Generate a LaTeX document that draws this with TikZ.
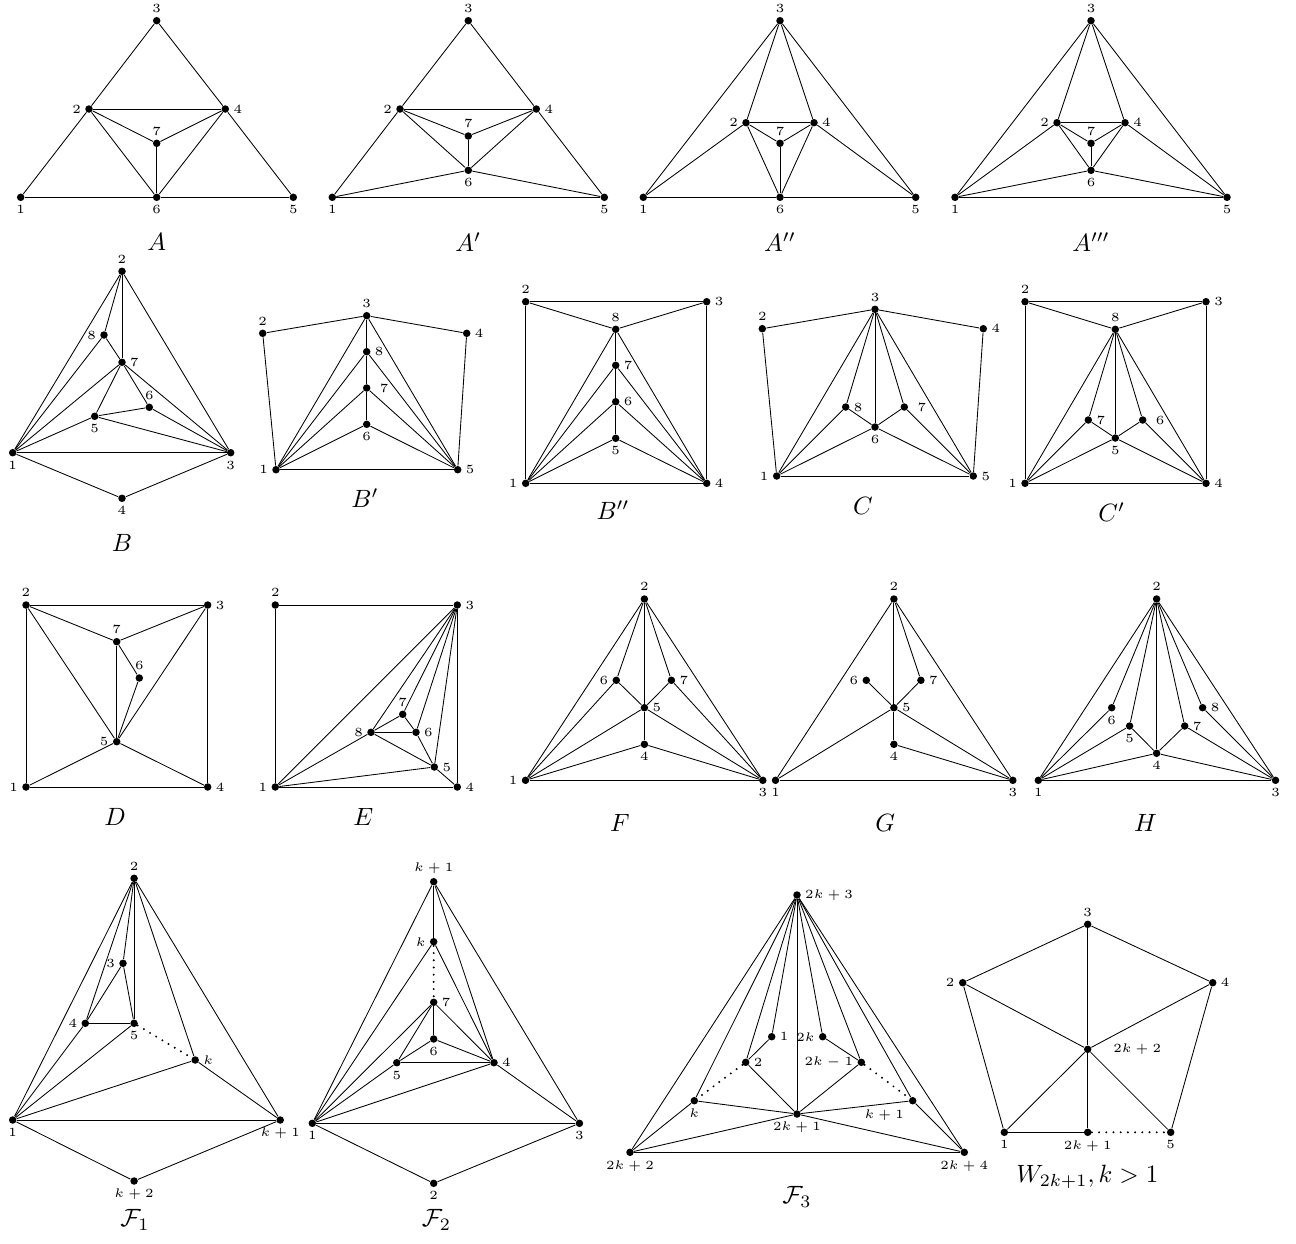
\documentclass[tikz,border=0pt]{standalone}
\begin{document}
\begin{tikzpicture}[x=1pt,y=-1pt,line width=0.85pt,
  v/.style={circle,fill=black,inner sep=0pt,minimum size=7.5pt},
  every label/.style={scale=2.5,font=\tiny,inner sep=1.2pt},
  captext/.style={scale=2.5,font=\normalsize,inner sep=0pt},
  dotline/.style={line width=2.2pt,line cap=round,dash pattern=on 0pt off 7.2pt}]
\useasboundingbox (0,0) rectangle (1296,1243);

% ---------- A ----------
\node[v,label=below:$1$] (a1) at (20.7,197.3) {};
\node[v,label=left:$2$] (a2) at (89,109) {};
\node[v,label=above:$3$] (a3) at (156.7,20.7) {};
\node[v,label=right:$4$] (a4) at (225.3,109) {};
\node[v,label=below:$5$] (a5) at (293.3,197.3) {};
\node[v,label=below:$6$] (a6) at (156.7,197.3) {};
\node[v,label=above:$7$] (a7) at (156.7,143.3) {};
\foreach \p/\q in {a1/a2,a2/a3,a3/a4,a4/a5,a5/a6,a6/a1,a2/a4,a2/a7,a7/a4,a7/a6,a2/a6,a4/a6}
  \draw (\p)--(\q);
\node[captext] (capA) at (156.7,241.7) {$A$};

% ---------- A' ----------
\node[v,label=below:$1$] (b1) at (332.3,197.3) {};
\node[v,label=left:$2$] (b2) at (400,109) {};
\node[v,label=above:$3$] (b3) at (468.3,20.7) {};
\node[v,label=right:$4$] (b4) at (536.3,109) {};
\node[v,label=below:$5$] (b5) at (604.3,197.3) {};
\node[v,label=below:$6$] (b6) at (468.3,170.3) {};
\node[v,label=above:$7$] (b7) at (468.3,136) {};
\foreach \p/\q in {b1/b2,b2/b3,b3/b4,b4/b5,b1/b5,b2/b4,b2/b7,b4/b7,b7/b6,b2/b6,b4/b6,b1/b6,b5/b6}
  \draw (\p)--(\q);
\node[captext] (capAp) at (468.3,241.7) {$A'$};

% ---------- A'' ----------
\node[v,label=below:$1$] (c1) at (643.3,197.3) {};
\node[v,label=left:$2$] (c2) at (746,122.7) {};
\node[v,label=above:$3$] (c3) at (780,20.7) {};
\node[v,label=right:$4$] (c4) at (814,122.7) {};
\node[v,label=below:$5$] (c5) at (915.7,197.3) {};
\node[v,label=below:$6$] (c6) at (780,197.3) {};
\node[v,label=above:$7$] (c7) at (780,143.3) {};
\foreach \p/\q in {c1/c3,c3/c5,c1/c6,c6/c5,c3/c2,c3/c4,c1/c2,c4/c5,c2/c4,c2/c7,c4/c7,c7/c6,c2/c6,c4/c6}
  \draw (\p)--(\q);
\node[captext] (capApp) at (780,241.7) {$A''$};

% ---------- A''' ----------
\node[v,label=below:$1$] (d1) at (955,197.3) {};
\node[v,label=left:$2$] (d2) at (1057,122.7) {};
\node[v,label=above:$3$] (d3) at (1091,20.7) {};
\node[v,label=right:$4$] (d4) at (1125,122.7) {};
\node[v,label=below:$5$] (d5) at (1227,197.3) {};
\node[v,label=below:$6$] (d6) at (1091,170.3) {};
\node[v,label=above:$7$] (d7) at (1091,143.3) {};
\foreach \p/\q in {d1/d3,d3/d5,d1/d5,d3/d2,d3/d4,d1/d2,d4/d5,d2/d4,d2/d7,d4/d7,d7/d6,d2/d6,d4/d6,d1/d6,d5/d6}
  \draw (\p)--(\q);
\node[captext] (capAppp) at (1091,241.7) {$A'''$};

% ---------- B ----------
\node[v,label=below:$1$] (e1) at (12.7,452.7) {};
\node[v,label=above:$2$] (e2) at (122,271.3) {};
\node[v,label=below:$3$] (e3) at (230.7,452.7) {};
\node[v,label=below:$4$] (e4) at (122,498.3) {};
\node[v,label=below:$5$] (e5) at (94.7,416.3) {};
\node[v,label=above:$6$] (e6) at (149.3,407.3) {};
\node[v,label=right:$7$] (e7) at (122,362.3) {};
\node[v,label=left:$8$] (e8) at (104,335) {};
\foreach \p/\q in {e2/e1,e2/e3,e2/e8,e2/e7,e8/e1,e8/e7,e7/e1,e7/e3,e7/e5,e7/e6,e5/e6,e5/e1,e5/e3,e6/e3,e1/e3,e1/e4,e4/e3}
  \draw (\p)--(\q);
\node[captext] (capB) at (122,543) {$B$};

% ---------- B' ----------
\node[v,label=left:$1$] (f1) at (276,469.7) {};
\node[v,label=above:$2$] (f2) at (262.7,333.3) {};
\node[v,label=above:$3$] (f3) at (366.7,315.7) {};
\node[v,label=right:$4$] (f4) at (466.7,333.3) {};
\node[v,label=right:$5$] (f5) at (457.7,469.7) {};
\node[v,label=below:$6$] (f6) at (366.7,424.3) {};
\node[v,label={[label distance=2pt]right:$7$}] (f7) at (366.7,388) {};
\node[v,label=right:$8$] (f8) at (366.7,351.7) {};
\foreach \p/\q in {f2/f3,f3/f4,f2/f1,f4/f5,f1/f5,f3/f8,f8/f7,f7/f6,f1/f3,f1/f8,f1/f7,f1/f6,f5/f3,f5/f8,f5/f7,f5/f6}
  \draw (\p)--(\q);
\node[captext] (capBp) at (365,498) {$B'$};

% ---------- B'' ----------
\node[v,label=left:$1$] (g1) at (525.7,483.3) {};
\node[v,label=above:$2$] (g2) at (525.7,301.7) {};
\node[v,label=right:$3$] (g3) at (706.7,301.7) {};
\node[v,label=right:$4$] (g4) at (706.7,483.3) {};
\node[v,label=below:$5$] (g5) at (615.7,438.3) {};
\node[v,label=right:$6$] (g6) at (615.7,401.7) {};
\node[v,label=right:$7$] (g7) at (615.7,365.3) {};
\node[v,label=above:$8$] (g8) at (615.7,329.3) {};
\foreach \p/\q in {g2/g3,g2/g1,g3/g4,g1/g4,g2/g8,g3/g8,g8/g7,g7/g6,g6/g5,g1/g8,g1/g7,g1/g6,g1/g5,g4/g8,g4/g7,g4/g6,g4/g5}
  \draw (\p)--(\q);
\node[captext] (capBpp) at (613,510) {$B''$};

% ---------- C ----------
\node[v,label=left:$1$] (h1) at (776.7,476) {};
\node[v,label=above:$2$] (h2) at (762.3,328.7) {};
\node[v,label=above:$3$] (h3) at (875,309.3) {};
\node[v,label=right:$4$] (h4) at (983.3,328.7) {};
\node[v,label=right:$5$] (h5) at (973.3,476) {};
\node[v,label=below:$6$] (h6) at (875,427) {};
\node[v,label={[label distance=2pt]right:$7$}] (h7) at (904.3,407) {};
\node[v,label=right:$8$] (h8) at (845.7,407) {};
\foreach \p/\q in {h2/h3,h3/h4,h2/h1,h4/h5,h1/h5,h3/h1,h3/h8,h3/h6,h3/h7,h3/h5,h8/h6,h7/h6,h1/h8,h1/h6,h5/h7,h5/h6}
  \draw (\p)--(\q);
\node[captext] (capC) at (863,506) {$C$};

% ---------- C' ----------
\node[v,label=left:$1$] (i1) at (1025,483.3) {};
\node[v,label=above:$2$] (i2) at (1025,301.7) {};
\node[v,label=right:$3$] (i3) at (1206,301.7) {};
\node[v,label=right:$4$] (i4) at (1206,483.3) {};
\node[v,label=below:$5$] (i5) at (1115.3,438) {};
\node[v,label={[label distance=2pt]right:$6$}] (i6) at (1142.7,420) {};
\node[v,label=right:$7$] (i7) at (1088.3,420) {};
\node[v,label=above:$8$] (i8) at (1115.3,329.3) {};
\foreach \p/\q in {i2/i3,i2/i1,i3/i4,i1/i4,i2/i8,i3/i8,i8/i1,i8/i7,i8/i5,i8/i6,i8/i4,i7/i5,i6/i5,i1/i7,i1/i5,i4/i6,i4/i5}
  \draw (\p)--(\q);
\node[captext] (capCp) at (1111.7,511.7) {$C'$};

% ---------- D ----------
\node[v,label=left:$1$] (j1) at (26,787) {};
\node[v,label=above:$2$] (j2) at (26,605) {};
\node[v,label=right:$3$] (j3) at (207.7,605) {};
\node[v,label=right:$4$] (j4) at (207.7,787) {};
\node[v,label=left:$5$] (j5) at (116.7,741.7) {};
\node[v,label=above:$6$] (j6) at (139.3,678) {};
\node[v,label=above:$7$] (j7) at (116.7,641.7) {};
\foreach \p/\q in {j2/j3,j2/j1,j3/j4,j1/j4,j2/j7,j3/j7,j7/j6,j7/j5,j6/j5,j2/j5,j3/j5,j1/j5,j4/j5}
  \draw (\p)--(\q);
\node[captext] (capD) at (115,817.3) {$D$};

% ---------- E ----------
\node[v,label=left:$1$] (m1) at (275.3,787) {};
\node[v,label=above:$2$] (m2) at (275.3,605) {};
\node[v,label=right:$3$] (m3) at (457.3,605) {};
\node[v,label=right:$4$] (m4) at (457.3,787) {};
\node[v,label=right:$5$] (m5) at (434.3,767) {};
\node[v,label=right:$6$] (m6) at (416,732.3) {};
\node[v,label=above:$7$] (m7) at (402.7,714.3) {};
\node[v,label=left:$8$] (m8) at (371,732.3) {};
\foreach \p/\q in {m2/m3,m2/m1,m3/m4,m1/m4,m1/m3,m1/m8,m1/m5,m3/m8,m3/m7,m3/m6,m3/m5,m8/m7,m8/m6,m8/m5,m7/m6,m6/m5,m5/m4}
  \draw (\p)--(\q);
\node[captext] (capE) at (363.3,817.3) {$E$};

% ---------- F ----------
\node[v,label=left:$1$] (n1) at (525.5,780.3) {};
\node[v,label=above:$2$] (n2) at (644.4,599) {};
\node[v,label=below:$3$] (n3) at (762.8,780.3) {};
\node[v,label=below:$4$] (n4) at (644.4,744.3) {};
\node[v,label=right:$5$] (n5) at (644.4,707.7) {};
\node[v,label=left:$6$] (n6) at (616.3,680.3) {};
\node[v,label=right:$7$] (n7) at (671.4,680.3) {};
\foreach \p/\q in {n2/n1,n2/n3,n1/n3,n2/n6,n2/n5,n5/n4,n2/n7,n6/n1,n6/n5,n7/n5,n7/n3,n5/n1,n5/n3,n4/n1,n4/n3}
  \draw (\p)--(\q);
\node[captext] (capF) at (620,823) {$F$};

% ---------- G ----------
\node[v,label=below:$1$] (o1) at (775.5,780.3) {};
\node[v,label=above:$2$] (o2) at (893.9,599) {};
\node[v,label=below:$3$] (o3) at (1012.8,780.3) {};
\node[v,label=below:$4$] (o4) at (893.9,744.3) {};
\node[v,label=right:$5$] (o5) at (893.9,707.7) {};
\node[v,label=left:$6$] (o6) at (866.3,680.3) {};
\node[v,label=right:$7$] (o7) at (920.9,680.3) {};
\foreach \p/\q in {o2/o1,o2/o3,o1/o3,o2/o5,o5/o4,o2/o7,o6/o5,o7/o5,o5/o1,o5/o3,o4/o3}
  \draw (\p)--(\q);
\node[captext] (capG) at (885.2,823) {$G$};

% ---------- H ----------
\node[v,label=below:$1$] (p1) at (1038.3,780.3) {};
\node[v,label=above:$2$] (p2) at (1156.6,599) {};
\node[v,label=below:$3$] (p3) at (1275.5,780.3) {};
\node[v,label=below:$4$] (p4) at (1156.6,753.3) {};
\node[v,label=below:$5$] (p5) at (1129.6,726) {};
\node[v,label=below:$6$] (p6) at (1111.7,707.7) {};
\node[v,label=right:$7$] (p7) at (1184.7,726) {};
\node[v,label=right:$8$] (p8) at (1202.6,707.7) {};
\foreach \p/\q in {p2/p1,p2/p3,p1/p3,p2/p6,p2/p5,p2/p4,p2/p7,p2/p8,p6/p1,p5/p1,p5/p4,p7/p4,p8/p3,p7/p3,p4/p1,p4/p3}
  \draw (\p)--(\q);
\node[captext] (capH) at (1145.4,823) {$H$};

% ---------- F1 ----------
\node[v,label=below:$1$] (q1) at (12.7,1120) {};
\node[v,label=above:$2$] (q2) at (134.1,878.3) {};
\node[v,label=left:$3$] (q3) at (123,963.3) {};
\node[v,label=left:$4$] (q4) at (85.3,1023.3) {};
\node[v,label=below:$5$] (q5) at (134.1,1023.3) {};
\node[v,label=right:$k$] (qk) at (195.2,1060) {};
\node[v,label=below:$k+1$] (qk1) at (280.2,1120) {};
\node[v,label=below:$k+2$] (qk2) at (134.1,1181) {};
\foreach \p/\q in {q2/q1,q2/qk1,q2/q4,q2/q3,q2/q5,q2/qk,q3/q4,q3/q5,q4/q5,q4/q1,q5/q1,qk/q1,qk/qk1,q1/qk1,q1/qk2,qk2/qk1}
  \draw (\p)--(\q);
\draw[dotline] (q5)--(qk);
\node[captext] (capF1) at (135,1220) {$\mathcal{F}_1$};

% ---------- F2 ----------
\node[v,label=below:$1$] (r1) at (312.3,1123.3) {};
\node[v,label=below:$2$] (r2) at (433.7,1183.3) {};
\node[v,label=below:$3$] (r3) at (579.4,1123.3) {};
\node[v,label=right:$4$] (r4) at (494,1062.7) {};
\node[v,label=below:$5$] (r5) at (396.8,1062.7) {};
\node[v,label=below:$6$] (r6) at (433.7,1039) {};
\node[v,label=right:$7$] (r7) at (433.7,1002.3) {};
\node[v,label=left:$k$] (rk) at (433.7,941.7) {};
\node[v,label=above:$k+1$] (rk1) at (433.7,881.7) {};
\foreach \p/\q in {rk1/r1,rk1/r3,rk1/rk,rk1/r4,rk/r1,rk/r4,r7/r6,r7/r5,r7/r4,r7/r1,r6/r5,r6/r4,r5/r4,r5/r1,r4/r1,r4/r3,r1/r3,r1/r2,r2/r3}
  \draw (\p)--(\q);
\draw[dotline] (rk)--(r7);
\node[captext] (capF2) at (436.5,1220) {$\mathcal{F}_2$};

% ---------- F3 ----------
\node[v,label=right:$1$] (s1) at (771.7,1036.7) {};
\node[v,label=right:$2$] (s2) at (745.7,1062.3) {};
\node[v,label=below:$k$] (sk) at (694.3,1100.7) {};
\node[v,label=left:$2k$] (sa) at (822.7,1036.7) {};
\node[v,label=left:$2k-1$] (sb) at (861.3,1062.3) {};
\node[v,label={[label distance=1pt]below left:$k+1$}] (sc) at (912.7,1100.7) {};
\node[v,label=below:$2k+1$] (sd) at (797,1114) {};
\node[v,label=below:$2k+2$] (se) at (630,1152.3) {};
\node[v,label=right:$2k+3$] (sf) at (797,895) {};
\node[v,label=below:$2k+4$] (sg) at (964.3,1152.3) {};
\foreach \p/\q in {sf/se,sf/sk,sf/s2,sf/s1,sf/sd,sf/sa,sf/sb,sf/sc,sf/sg,s1/s2,s2/sd,sa/sb,sb/sd,sk/sd,sk/se,sc/sd,sc/sg,sd/se,sd/sg,se/sg}
  \draw (\p)--(\q);
\draw[dotline] (s2)--(sk);
\draw[dotline] (sb)--(sc);
\node[captext] (capF3) at (797,1197) {$\mathcal{F}_3$};

% ---------- W ----------
\node[v,label=below:$1$] (w1) at (1004.3,1132.3) {};
\node[v,label=left:$2$] (w2) at (962.7,982.7) {};
\node[v,label=above:$3$] (w3) at (1087.7,924.3) {};
\node[v,label=right:$4$] (w4) at (1212.7,982.7) {};
\node[v,label=below:$5$] (w5) at (1170.7,1132.3) {};
\node[v,label=below:$2k+1$] (wa) at (1087.7,1132.3) {};
\node[v,label={[label distance=7pt]right:$2k+2$}] (wc) at (1087.7,1049.3) {};
\foreach \p/\q in {w3/w2,w3/w4,w2/w1,w4/w5,w1/wa,wc/w3,wc/w2,wc/w4,wc/w1,wc/wa,wc/w5}
  \draw (\p)--(\q);
\draw[dotline] (wa)--(w5);
\node[captext] (capW) at (1087.3,1176.7) {$W_{2k+1}, k>1$};
\end{tikzpicture}
\end{document}
